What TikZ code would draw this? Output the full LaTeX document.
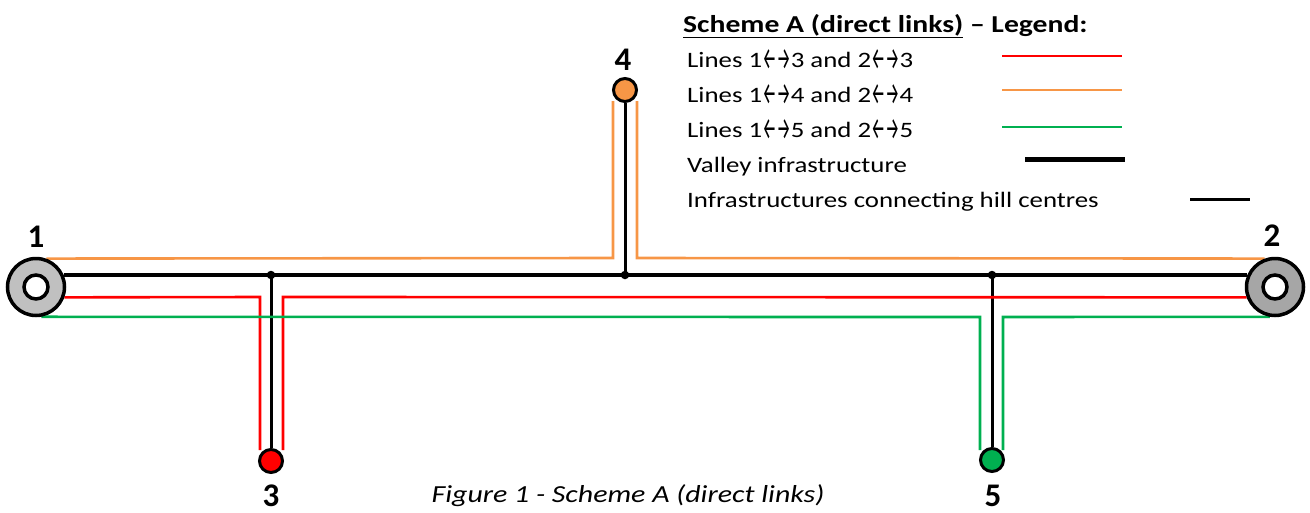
\documentclass[tikz,border=0pt]{standalone}
\usepackage{fontspec}
\setmainfont[FakeStretch=1.22]{Carlito}
\newfontfamily\labelfont{Carlito}
\newfontfamily\arrowfont{Fira Sans}
\usetikzlibrary{backgrounds}
\definecolor{cred}{HTML}{FF0000}
\definecolor{corange}{HTML}{F79646}
\definecolor{cgreen}{HTML}{00B050}
\definecolor{gringA}{HTML}{C0C0C0}
\definecolor{gringB}{HTML}{A6A6A6}
\newcommand{\larr}{\raisebox{-0.11em}{\arrowfont\scalebox{0.72}[1.42]{←}}}
\newcommand{\rarr}{\raisebox{-0.11em}{\arrowfont\scalebox{0.72}[1.42]{→}}}
\tikzset{
  ring/.style={circle, draw=black, line width=3.5pt, minimum size=57pt, inner sep=0pt},
  hole/.style={circle, draw=black, fill=white, line width=3.5pt, minimum size=24pt, inner sep=0pt},
  station/.style={circle, draw=black, line width=3pt, minimum size=23pt, inner sep=0pt},
  junction/.style={circle, fill=black, minimum size=8.5pt, inner sep=0pt},
  valley/.style={draw=black, line width=4pt},
  hill/.style={draw=black, line width=3pt},
  link/.style={line width=2.6pt},
  numlabel/.style={font=\fontsize{33}{35}\selectfont\labelfont\bfseries, anchor=base, inner sep=0pt},
  legtext/.style={font=\fontsize{22}{26}\selectfont, anchor=base west, inner sep=0pt},
}
\begin{document}
\begin{tikzpicture}[x=1pt,y=-1pt]
\useasboundingbox (0,0) rectangle (1310,512);

% rings and stations
\node[ring, fill=gringA] (r1) at (36,287) {};
\node[hole] (h1) at (36,287) {};
\node[ring, fill=gringB] (r2) at (1275,287) {};
\node[hole] (h2) at (1275,287) {};
\node[station, fill=cred] (n3) at (271,461) {};
\node[station, fill=corange] (n4) at (625,90) {};
\node[station, fill=cgreen] (n5) at (992,460) {};

\node[junction] (j3) at (271,275) {};
\node[junction] (j4) at (625,275) {};
\node[junction] (j5) at (992,275) {};

\begin{scope}[on background layer]
  % valley infrastructure
  \draw[valley] (r1.24) -- (r2.156);
  % hill infrastructures
  \draw[hill] (j3.center) -- (n3);
  \draw[hill] (j4.center) -- (n4);
  \draw[hill] (j5.center) -- (n5);
  % orange lines
  \coordinate (o1) at (613,101);
  \coordinate (o2) at (637,101);
  \draw[link, corange] (r1.70) -- (613,258) -- (o1);
  \draw[link, corange] (o2) -- (637,258) -- (r2.110);
  % red lines
  \coordinate (d1) at (260,450);
  \coordinate (d2) at (283,450);
  \draw[link, cred] (r1.-20) -- (260,297) -- (d1);
  \draw[link, cred] (d2) -- (283,297) -- (r2.200);
  % green lines
  \coordinate (g1) at (980,450);
  \coordinate (g2) at (1003,450);
  \draw[link, cgreen] (r1.-80) -- (980,317) -- (g1);
  \draw[link, cgreen] (g2) -- (1003,317) -- (r2.-100);
\end{scope}

% number labels
\node[numlabel] (l1) at (36,247) {1};
\node[numlabel] (l2) at (1272,246) {2};
\node[numlabel] (l3) at (271,506) {3};
\node[numlabel] (l4) at (623,70) {4};
\node[numlabel] (l5) at (993,506) {5};

% legend
\node[legtext, font=\fontsize{24.3}{28}\selectfont\bfseries] (lt) at (683,32) {\underline{Scheme A (direct links)} – Legend:};
\node[legtext] (lg1) at (687,67) {Lines 1\larr\rarr3 and 2\larr\rarr3};
\node[legtext] (lg2) at (687,102) {Lines 1\larr\rarr4 and 2\larr\rarr4};
\node[legtext] (lg3) at (687,137) {Lines 1\larr\rarr5 and 2\larr\rarr5};
\node[legtext] (lg4) at (687,172) {Valley infrastructure};
\node[legtext] (lg5) at (687,207) {Infrastructures connecting hill centres};
\coordinate (k1a) at (1002,56); \coordinate (k1b) at (1122,56);
\coordinate (k2a) at (1002,90); \coordinate (k2b) at (1122,90);
\coordinate (k3a) at (1002,127); \coordinate (k3b) at (1122,127);
\coordinate (k4a) at (1025,159); \coordinate (k4b) at (1125,159);
\coordinate (k5a) at (1190,199); \coordinate (k5b) at (1250,199);
\draw[link, cred] (k1a) -- (k1b);
\draw[link, corange] (k2a) -- (k2b);
\draw[link, cgreen] (k3a) -- (k3b);
\draw[valley, line width=5pt] (k4a) -- (k4b);
\draw[hill] (k5a) -- (k5b);

% caption
\node[font=\fontsize{24.5}{28}\selectfont\itshape, anchor=base, inner sep=0pt] (cap) at (628,502) {Figure 1 - Scheme A (direct links)};
\end{tikzpicture}
\end{document}
